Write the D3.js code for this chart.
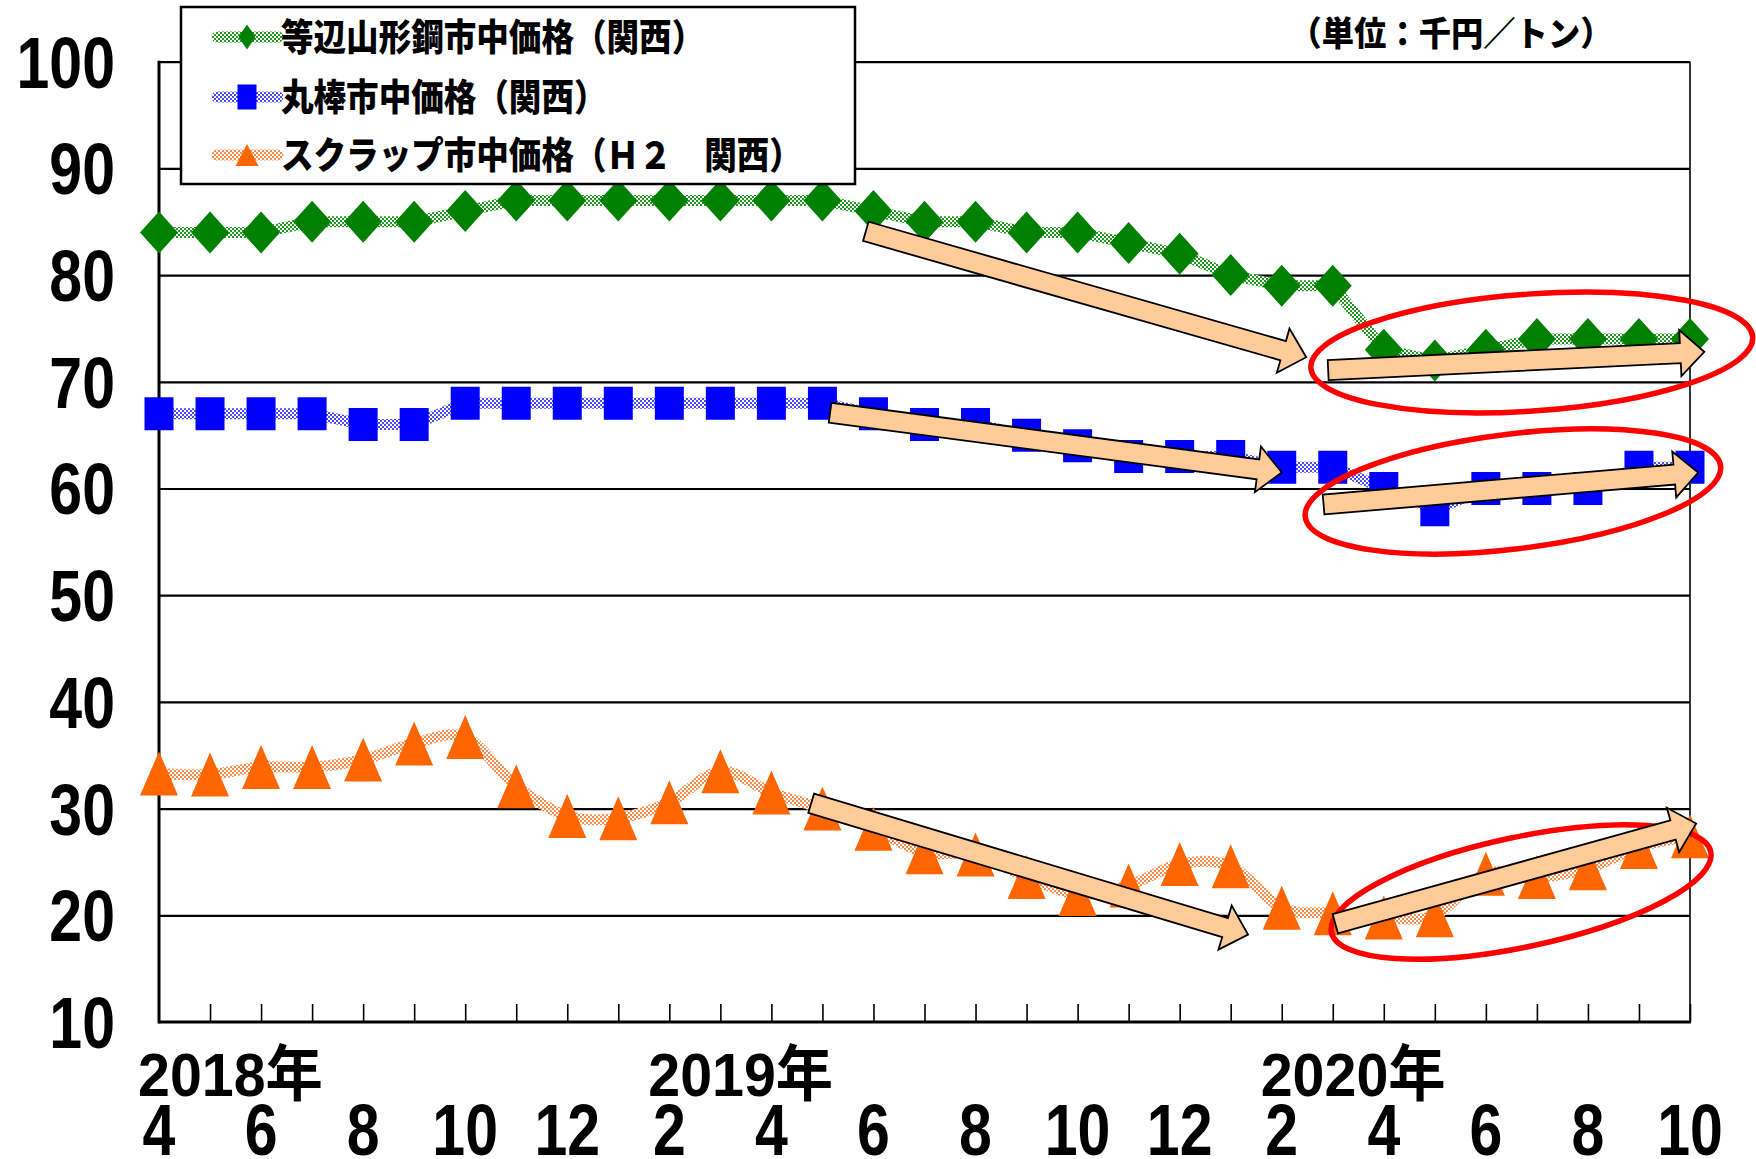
<!DOCTYPE html>
<html>
<head>
<meta charset="utf-8">
<script src="https://cdn.jsdelivr.net/npm/d3@7"></script>
<style>
  html, body { margin: 0; padding: 0; background: #fff; }
  svg { display: block; }
</style>
</head>
<body>
<svg id="chart"></svg>
<script>
// categories: month of each point, and its year
const months = [4,5,6,7,8,9,10,11,12, 1,2,3,4,5,6,7,8,9,10,11,12, 1,2,3,4,5,6,7,8,9,10];
const years  = [2018,2018,2018,2018,2018,2018,2018,2018,2018,
                2019,2019,2019,2019,2019,2019,2019,2019,2019,2019,2019,2019,
                2020,2020,2020,2020,2020,2020,2020,2020,2020,2020];
const yTicks = [10,20,30,40,50,60,70,80,90,100];

// series (千円/トン)
const anglePrice = [84,84,84,85,85,85,86,87,87,87,87,87,87,87,86,85,85,84,84,83,82,80,79,79,73,72,73,74,74,74,74];
const barPrice   = [67,67,67,67,66,66,68,68,68,68,68,68,68,68,67,66,66,65,64,63,63,63,62,62,60,58,60,60,60,62,62];
const scrapPrice = [33.3,33.2,33.9,33.9,34.6,36.1,36.7,32.1,29.3,29.1,30.6,33.5,31.5,30.0,28.1,25.9,25.7,23.6,22.0,22.8,24.8,24.6,20.7,20.2,19.8,20.0,23.9,23.6,24.4,26.4,27.4];
const seriesNames = ['等辺山形鋼市中価格（関西）', '丸棒市中価格（関西）', 'スクラップ市中価格（Ｈ２　関西）'];
const unitLabel = '（単位：千円／トン）';

// annotations, in data space: [month index, value]
const arrowFrom = [[13.85,84.1],[22.91,71.1],[13.15,67.1],[22.82,58.5],[12.78,30.5],[23.05,19.2]];
const arrowTo   = [[22.48,72.3],[30.28,72.8],[22.0,61.5],[30.16,61.5],[21.34,18.2],[30.12,28.6]];
const ringCenter = [[26.90,72.75],[26.53,59.72],[26.69,22.18]];
const ringRadius = [[4.34,5.48],[4.10,5.39],[3.80,5.15]];
const ringTilt   = [-4,-7,-12];

const W = 1756, H = 1159;
const plotLeft = 159, plotRight = 1690, plotTop = 61.7, plotBottom = 1022;
const numFont = '"Liberation Sans", Arial, "Noto Sans CJK JP", sans-serif';
const jpFont = '"Noto Sans CJK JP", "Noto Sans CJK SC", sans-serif';

const svg = d3.select('#chart').attr('width', W).attr('height', H);
const defs = svg.append('defs');

const x = d3.scaleLinear().domain([0, months.length - 1]).range([plotLeft, plotRight]);
const y = d3.scaleLinear().domain([10, 100]).range([plotBottom, plotTop]);

function hatch(id, color) {
  const p = defs.append('pattern').attr('id', id)
    .attr('width', 4).attr('height', 4).attr('patternUnits', 'userSpaceOnUse');
  p.append('rect').attr('width', 4).attr('height', 4).attr('fill', '#fff');
  p.append('rect').attr('width', 2).attr('height', 2).attr('fill', color);
  p.append('rect').attr('x', 2).attr('y', 2).attr('width', 2).attr('height', 2).attr('fill', color);
}
hatch('hg', '#1f9a1f');
hatch('hb', '#4a4aff');
hatch('ho', '#ff8c4a');

// grid lines
const grid = svg.append('g')
  .attr('transform', `translate(${plotLeft},0)`)
  .call(d3.axisLeft(y).tickValues(yTicks.slice(1)).tickSize(-(plotRight - plotLeft)).tickFormat(''));
grid.select('.domain').remove();
grid.selectAll('line').attr('stroke', '#000').attr('stroke-width', 2.2);

// month ticks, pointing inward
const xt = svg.append('g')
  .attr('transform', `translate(0,${plotBottom})`)
  .call(d3.axisBottom(x).tickValues(d3.range(1, months.length)).tickSize(-18).tickFormat(''));
xt.select('.domain').remove();
xt.selectAll('line').attr('stroke', '#000').attr('stroke-width', 1.6);

// frame
svg.append('line').attr('x1', plotRight).attr('x2', plotRight).attr('y1', plotTop).attr('y2', plotBottom)
  .attr('stroke', '#000').attr('stroke-width', 1.6);
svg.append('line').attr('x1', plotLeft).attr('x2', plotLeft).attr('y1', plotTop - 1).attr('y2', plotBottom + 1.5)
  .attr('stroke', '#000').attr('stroke-width', 3);
svg.append('line').attr('x1', plotLeft).attr('x2', plotRight + 1).attr('y1', plotBottom).attr('y2', plotBottom)
  .attr('stroke', '#000').attr('stroke-width', 3);

// markers
const diamond = 'M0,-21L19,0L0,21L-19,0Z';
const square = 'M-14.5,-16.5H14.5V16.5H-14.5Z';
const triangle = 'M0,-22L19,22L-19,22Z';

const series = [
  { values: anglePrice, color: '#008000', pat: 'url(#hg)', shape: diamond, curve: d3.curveLinear },
  { values: barPrice,   color: '#0000ff', pat: 'url(#hb)', shape: square,  curve: d3.curveLinear },
  { values: scrapPrice, color: '#ff6600', pat: 'url(#ho)', shape: triangle, curve: d3.curveCatmullRom.alpha(0) }
];

series.forEach(s => {
  const line = d3.line().x((d, i) => x(i)).y(d => y(d)).curve(s.curve);
  svg.append('path').datum(s.values)
    .attr('d', line).attr('fill', 'none')
    .attr('stroke', s.pat).attr('stroke-width', 11).attr('stroke-linejoin', 'round');
  svg.append('g').selectAll('path').data(s.values).enter().append('path')
    .attr('d', s.shape)
    .attr('transform', (d, i) => `translate(${x(i)},${y(d)})`)
    .attr('fill', s.color);
});

// red rings
ringCenter.forEach((c, i) => {
  const cx = x(c[0]), cy = y(c[1]);
  const rx = x(c[0] + ringRadius[i][0]) - cx;
  const ry = y(c[1]) - y(c[1] + ringRadius[i][1]);
  svg.append('ellipse')
    .attr('cx', cx).attr('cy', cy).attr('rx', rx).attr('ry', ry)
    .attr('transform', `rotate(${ringTilt[i]},${cx},${cy})`)
    .attr('fill', 'none').attr('stroke', '#ff0000').attr('stroke-width', 5.5);
});

// block arrows
function arrowPath(t, p, w, hw, hl) {
  const dx = p[0] - t[0], dy = p[1] - t[1];
  const len = Math.hypot(dx, dy);
  const ux = dx / len, uy = dy / len, nx = -uy, ny = ux;
  const bx = p[0] - ux * hl, by = p[1] - uy * hl;
  const pts = [
    [t[0] + nx * w / 2, t[1] + ny * w / 2],
    [bx + nx * w / 2, by + ny * w / 2],
    [bx + nx * hw / 2, by + ny * hw / 2],
    p,
    [bx - nx * hw / 2, by - ny * hw / 2],
    [bx - nx * w / 2, by - ny * w / 2],
    [t[0] - nx * w / 2, t[1] - ny * w / 2]
  ];
  return 'M' + pts.map(q => q.join(',')).join('L') + 'Z';
}
arrowFrom.forEach((f, i) => {
  const t = [x(f[0]), y(f[1])];
  const p = [x(arrowTo[i][0]), y(arrowTo[i][1])];
  svg.append('path').attr('d', arrowPath(t, p, 20, 46, 24))
    .attr('fill', '#ffcc99').attr('stroke', '#000').attr('stroke-width', 1.8)
    .attr('stroke-linejoin', 'miter');
});

// y labels
svg.append('g').selectAll('text').data(yTicks).enter().append('text')
  .attr('transform', d => `translate(115,${y(d)}) scale(0.82,1)`)
  .attr('dy', '0.36em')
  .attr('text-anchor', 'end')
  .attr('font-family', numFont).attr('font-weight', 'bold').attr('font-size', 72)
  .text(d => d);

// month labels every 2 months, year label above first labelled month of a year
const labelled = months.map((m, i) => i).filter(i => i % 2 === 0);
svg.append('g').selectAll('text').data(labelled).enter().append('text')
  .attr('transform', i => `translate(${x(i)},1155) scale(0.82,1)`)
  .attr('text-anchor', 'middle')
  .attr('font-family', numFont).attr('font-weight', 'bold').attr('font-size', 72)
  .text(i => months[i]);
const firstOfYear = labelled.filter((i, k) => k === 0 || years[labelled[k - 1]] !== years[i]);
svg.append('g').selectAll('text').data(firstOfYear).enter().append('text')
  .attr('transform', i => `translate(${x(i) - 21},1096) scale(0.94,1)`)
  .attr('text-anchor', 'start')
  .attr('font-family', numFont).attr('font-weight', 'bold').attr('font-size', 61)
  .text(i => years[i] + '年');

// unit
svg.append('text')
  .attr('transform', 'translate(1451,46) scale(0.95,1)')
  .attr('text-anchor', 'middle')
  .attr('font-family', jpFont).attr('font-weight', 900).attr('font-size', 34)
  .text(unitLabel);

// legend
const lg = svg.append('g');
lg.append('rect').attr('x', 181).attr('y', 7).attr('width', 674).attr('height', 177)
  .attr('fill', '#fff').attr('stroke', '#000').attr('stroke-width', 2.5);
const legendY = [37, 97, 155];
const legendMark = [
  'M0,-12.5L8.5,0L0,12.5L-8.5,0Z',
  'M-9.5,-12.5H9.5V12.5H-9.5Z',
  'M0,-11L11.5,11L-11.5,11Z'
];
series.forEach((s, i) => {
  const ly = legendY[i];
  lg.append('line').attr('x1', 217).attr('x2', 278).attr('y1', ly).attr('y2', ly)
    .attr('stroke', s.pat).attr('stroke-width', 11).attr('stroke-linecap', 'round');
  lg.append('path').attr('d', legendMark[i]).attr('transform', `translate(247,${ly})`).attr('fill', s.color);
  lg.append('text')
    .attr('transform', `translate(281,${ly}) scale(0.88,1)`)
    .attr('dy', '0.37em')
    .attr('font-family', jpFont).attr('font-weight', 900).attr('font-size', 37)
    .text(seriesNames[i]);
});
</script>
</body>
</html>
